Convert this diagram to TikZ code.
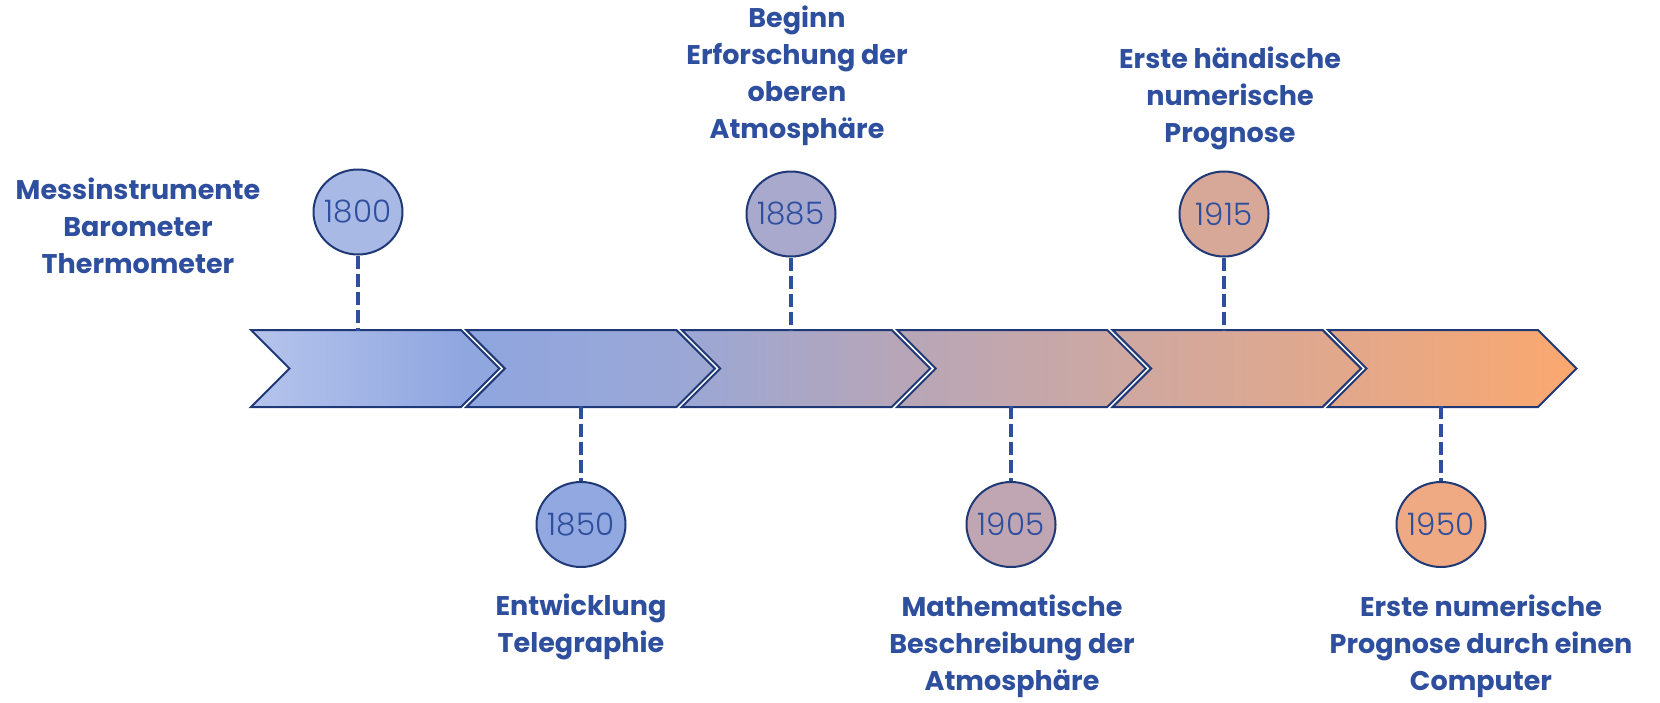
\documentclass[tikz,border=0pt]{standalone}
\usepackage{fontspec}
\setmainfont{Poppins}
\newfontfamily\yearfont{Poppins Light}
\usetikzlibrary{shapes.geometric}
\definecolor{txt}{RGB}{46,78,158}
\definecolor{navy}{RGB}{31,56,118}
\definecolor{g0}{HTML}{B6C4EC}
\definecolor{g1}{HTML}{8FA6DF}
\definecolor{g2}{HTML}{9AA7D6}
\definecolor{g3}{HTML}{B5A6B9}
\definecolor{g4}{HTML}{CFA8A1}
\definecolor{g5}{HTML}{E4A889}
\definecolor{g6}{HTML}{FBA86E}
\definecolor{y1800}{HTML}{A8B9E6}
\definecolor{y1850}{HTML}{92A8E0}
\definecolor{y1885}{HTML}{A9A9CE}
\definecolor{y1905}{HTML}{C0A6B3}
\definecolor{y1915}{HTML}{D7A898}
\definecolor{y1950}{HTML}{EFA983}
\pgfdeclarehorizontalshading{band}{100bp}{color(0bp)=(g0); color(25bp)=(g0); color(33bp)=(g1); color(41bp)=(g2); color(49bp)=(g3); color(58bp)=(g4); color(67bp)=(g5); color(75bp)=(g6); color(100bp)=(g6)}
\newcommand\yeartext[1]{\makebox[0pt]{#1}}
\tikzset{
  yr/.style={ellipse, draw=navy, line width=2pt, minimum width=89pt, minimum height=85pt, inner sep=0pt, text=txt, font=\yearfont\fontsize{31}{31}\selectfont},
  lbl/.style={text=txt, align=center, inner sep=0pt, font=\bfseries\fontsize{27}{37}\selectfont},
  conn/.style={draw=txt, line width=4pt, dash pattern=on 13pt off 5pt},
  chevline/.style={draw=navy, line width=2pt}
}
\begin{document}
\begin{tikzpicture}[x=1pt,y=-1pt]
\useasboundingbox (0,0) rectangle (1660,702);
% band
\shade[shading=band] \foreach \i [evaluate=\i as \x using 251+215.4*\i] in {0,...,5} {
  (\x,330) -- ({\x+210},330) -- ({\x+248.5},368.5) -- ({\x+210},407) -- (\x,407) -- ({\x+38.5},368.5) -- cycle };
\foreach \i [evaluate=\i as \x using 251+215.4*\i] in {0,...,5} {
  \draw[chevline] (\x,330) -- ({\x+210},330) -- ({\x+248.5},368.5) -- ({\x+210},407) -- (\x,407) -- ({\x+38.5},368.5) -- cycle; }
% anchor coordinates on band
\coordinate (t1) at (358,331);
\coordinate (b2) at (581,406);
\coordinate (t3) at (791,331);
\coordinate (b4) at (1011,406);
\coordinate (t5) at (1224,331);
\coordinate (b6) at (1441,406);
% circles
\node[yr, fill=y1800] (c1) at (358,212) {\yeartext{1800}};
\node[yr, fill=y1850] (c2) at (581,524.5) {\yeartext{1850}};
\node[yr, fill=y1885] (c3) at (791,214) {\yeartext{1885}};
\node[yr, fill=y1905] (c4) at (1011,524.5) {\yeartext{1905}};
\node[yr, fill=y1915] (c5) at (1224,214) {\yeartext{1915}};
\node[yr, fill=y1950] (c6) at (1441,524.5) {\yeartext{1950}};
% connectors
\draw[conn] (c1.south) -- (t1);
\draw[conn] (b2) -- (c2.north);
\draw[conn] (c3.south) -- (t3);
\draw[conn] (b4) -- (c4.north);
\draw[conn] (c5.south) -- (t5);
\draw[conn] (b6) -- (c6.north);
% labels
\node[lbl] (l1) at (138,226) {Messinstrumente\\Barometer\\Thermometer};
\node[lbl] (l3) at (797,76) {Beginn\\Erforschung der\\oberen\\Atmosphäre};
\node[lbl] (l5) at (1230,98) {Erste händische\\numerische\\Prognose};
\node[lbl] (l2) at (581,627) {Entwicklung\\Telegraphie};
\node[lbl] (l4) at (1012,646) {Mathematische\\Beschreibung der\\Atmosphäre};
\node[lbl] (l6) at (1481,646) {Erste numerische\\Prognose durch einen\\Computer};
\end{tikzpicture}
\end{document}
